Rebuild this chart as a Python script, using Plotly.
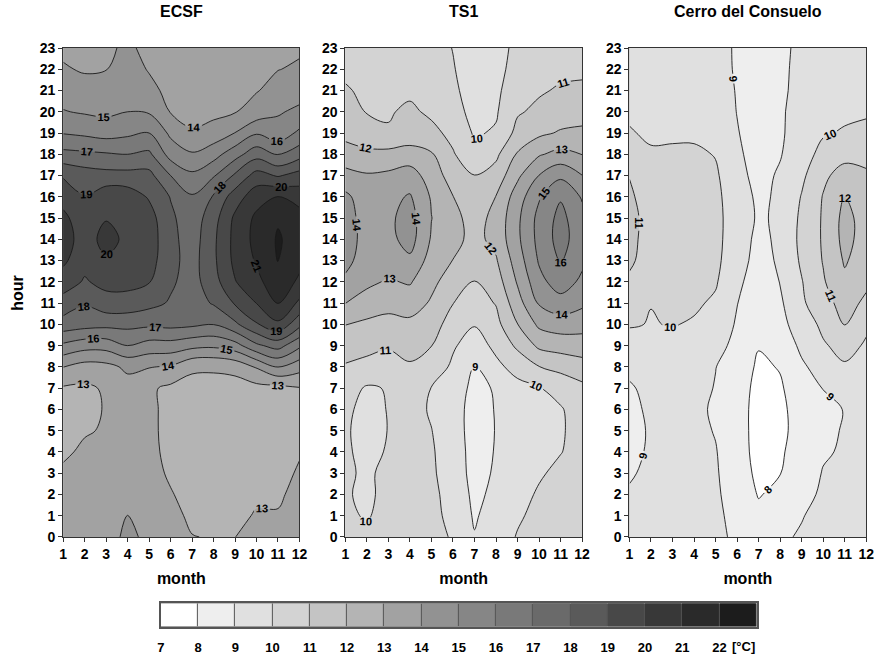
import plotly.graph_objects as go

W, H = 890, 662

months = list(range(1, 13))
hours = list(range(24))
month_ticks = [str(m) for m in months]
hour_ticks = [str(h) for h in hours]
titles = ["ECSF", "TS1", "Cerro del Consuelo"]

# temperature [°C]; one list per month (values for hours 0..23)
ecsf_by_month = [
    [13.6, 13.5, 13.3, 13.1, 12.9, 12.7, 12.7, 12.9, 14.02, 15.8, 17.6, 18.6, 19.5, 20.2, 20.4, 20.2, 19.7, 18.9, 17.3, 15.95, 15.05, 14.6, 14.1, 13.8],
    [13.5, 13.4, 13.3, 13.2, 13.1, 12.95, 12.8, 12.85, 13.6, 15.4, 17.4, 18.1, 18.9, 19.3, 19.6, 19.5, 19.05, 18.5, 17.2, 15.8, 14.9, 14.4, 13.9, 13.7],
    [13.45, 13.3, 13.2, 13.15, 13.1, 13.05, 13.05, 13.1, 13.7, 15.4, 17.3, 18.6, 19.3, 19.9, 20.3, 19.95, 19.65, 18.35, 17.1, 15.6, 14.8, 14.4, 13.98, 13.9],
    [14.3, 14.02, 13.7, 13.5, 13.4, 13.35, 13.35, 13.6, 14.2, 16.0, 17.3, 18.6, 19.3, 19.6, 19.8, 19.7, 19.55, 18.35, 17.0, 15.8, 15.0, 14.6, 14.3, 14.1],
    [13.7, 13.5, 13.35, 13.25, 13.2, 13.15, 13.15, 13.15, 14.05, 15.6, 17.2, 18.3, 19.05, 19.4, 19.5, 19.4, 18.9, 18.3, 17.2, 16.0, 14.9, 14.2, 13.95, 13.85],
    [13.4, 13.2, 13.05, 12.9, 12.8, 12.8, 12.8, 12.8, 13.9, 15.6, 17.3, 17.9, 18.15, 18.3, 18.3, 18.2, 17.95, 17.0, 15.6, 14.8, 13.95, 13.8, 13.75, 13.7],
    [13.02, 12.87, 12.75, 12.7, 12.65, 12.6, 12.65, 12.7, 13.15, 15.3, 17.2, 17.5, 17.6, 17.6, 17.5, 17.4, 17.1, 16.2, 15.1, 14.1, 13.7, 13.6, 13.55, 13.5],
    [12.96, 12.8, 12.7, 12.65, 12.6, 12.6, 12.65, 12.75, 13.1, 15.2, 17.02, 18.1, 18.6, 18.8, 18.8, 18.6, 18.1, 16.9, 15.6, 14.4, 13.75, 13.6, 13.6, 13.6],
    [12.99, 12.85, 12.7, 12.6, 12.6, 12.6, 12.6, 12.6, 13.3, 15.6, 17.8, 19.1, 19.95, 20.25, 20.3, 20.2, 19.5, 18.15, 16.6, 15.02, 13.95, 13.75, 13.7, 13.7],
    [13.3, 13.05, 12.9, 12.8, 12.7, 12.7, 12.7, 12.7, 14.1, 16.8, 18.9, 20.02, 20.7, 21.1, 21.3, 21.2, 20.6, 19.4, 17.6, 15.9, 14.4, 13.95, 13.8, 13.75],
    [13.2, 13.05, 12.9, 12.8, 12.7, 12.7, 12.75, 12.7, 15.02, 17.4, 19.8, 21.02, 21.7, 22.03, 22.1, 21.9, 21.02, 18.9, 16.9, 15.4, 14.9, 14.3, 13.98, 13.85],
    [13.4, 13.3, 13.2, 13.07, 12.95, 12.9, 12.9, 12.95, 14.4, 16.2, 18.3, 19.8, 20.8, 21.3, 21.6, 21.4, 20.6, 19.4, 17.6, 16.2, 15.2, 14.6, 14.1, 13.9],
]

ts1_by_month = [
    [10.2, 10.1, 10.05, 10.05, 10.05, 10.05, 10.1, 10.4, 10.9, 11.5, 12.02, 13.02, 13.8, 14.3, 14.5, 14.4, 14.2, 13.4, 12.3, 11.8, 11.4, 11.1, 10.8, 10.7],
    [10.1, 9.95, 9.9, 9.95, 9.9, 9.85, 9.85, 9.9, 10.7, 11.3, 11.8, 12.6, 13.2, 13.5, 13.6, 13.6, 13.5, 13.1, 12.2, 11.5, 10.95, 10.8, 10.7, 10.6],
    [10.3, 10.2, 10.15, 10.08, 10.03, 10.01, 10.02, 10.05, 10.8, 11.05, 11.7, 12.3, 12.9, 13.4, 13.7, 13.8, 13.7, 13.2, 12.3, 11.1, 10.9, 10.7, 10.6, 10.5],
    [10.4, 10.35, 10.3, 10.3, 10.3, 10.3, 10.35, 10.45, 10.9, 11.3, 11.8, 12.4, 13.1, 13.8, 14.4, 14.4, 14.1, 13.4, 12.5, 11.3, 11.2, 10.8, 10.7, 10.6],
    [10.35, 10.3, 10.25, 10.15, 10.1, 10.02, 9.9, 9.98, 10.5, 11.02, 11.5, 11.9, 12.2, 12.6, 12.9, 13.02, 12.9, 12.6, 12.1, 11.3, 10.8, 10.5, 10.4, 10.3],
    [9.9, 9.7, 9.6, 9.5, 9.5, 9.45, 9.45, 9.6, 9.85, 10.1, 10.5, 11.02, 11.6, 11.98, 12.3, 12.3, 12.02, 11.5, 11.1, 10.7, 10.3, 10.15, 10.05, 9.98],
    [9.05, 8.9, 8.8, 8.7, 8.65, 8.6, 8.6, 8.7, 8.98, 9.6, 10.05, 10.6, 10.98, 11.5, 11.7, 11.6, 11.4, 11.02, 10.2, 9.9, 9.75, 9.65, 9.6, 9.6],
    [9.6, 9.4, 9.2, 9.1, 9.05, 9.03, 9.05, 9.1, 9.8, 10.2, 10.7, 11.05, 11.5, 11.9, 12.3, 12.3, 12.02, 11.4, 10.8, 10.1, 9.9, 9.8, 9.75, 9.7],
    [10.05, 9.9, 9.7, 9.6, 9.5, 9.45, 9.5, 9.75, 10.3, 11.2, 11.98, 12.6, 13.1, 13.5, 13.8, 13.8, 13.5, 12.8, 12.1, 11.3, 10.9, 10.6, 10.3, 10.2],
    [10.3, 10.2, 10.1, 9.9, 9.8, 9.75, 9.8, 9.95, 10.98, 12.2, 13.2, 14.1, 14.7, 15.1, 15.3, 15.3, 14.9, 14.02, 12.9, 11.8, 11.2, 10.9, 10.6, 10.5],
    [10.5, 10.4, 10.3, 10.2, 9.97, 9.9, 9.93, 10.3, 11.3, 12.4, 13.5, 14.6, 15.5, 16.1, 16.4, 16.3, 15.9, 14.8, 13.3, 12.1, 11.5, 11.1, 10.8, 10.7],
    [10.4, 10.35, 10.3, 10.3, 10.3, 10.35, 10.4, 10.75, 11.6, 12.5, 13.4, 14.2, 14.8, 15.2, 15.4, 15.3, 14.9, 14.02, 12.98, 12.2, 11.6, 11.1, 10.9, 10.9],
]

cerro_by_month = [
    [9.3, 9.2, 9.05, 8.95, 8.9, 8.85, 8.9, 8.95, 9.1, 9.5, 10.1, 10.3, 10.85, 11.15, 11.2, 11.2, 11.1, 10.98, 10.6, 10.1, 9.8, 9.7, 9.65, 9.6],
    [9.4, 9.35, 9.2, 9.1, 9.05, 9.05, 9.07, 9.12, 9.45, 9.7, 9.95, 10.02, 10.4, 10.6, 10.7, 10.75, 10.7, 10.5, 10.15, 9.8, 9.7, 9.65, 9.6, 9.55],
    [9.45, 9.4, 9.35, 9.35, 9.3, 9.3, 9.3, 9.4, 9.55, 9.7, 10.05, 10.3, 10.5, 10.65, 10.7, 10.75, 10.7, 10.6, 10.15, 9.85, 9.7, 9.65, 9.6, 9.55],
    [9.45, 9.4, 9.35, 9.3, 9.3, 9.25, 9.25, 9.35, 9.5, 9.7, 9.9, 10.15, 10.4, 10.55, 10.6, 10.6, 10.55, 10.45, 10.2, 9.8, 9.65, 9.55, 9.5, 9.5],
    [9.25, 9.2, 9.15, 9.1, 9.05, 8.95, 8.85, 8.95, 9.02, 9.3, 9.6, 9.85, 10.1, 10.25, 10.3, 10.3, 10.25, 10.15, 9.95, 9.7, 9.5, 9.4, 9.35, 9.3],
    [8.8, 8.7, 8.55, 8.45, 8.4, 8.35, 8.35, 8.4, 8.55, 8.75, 8.9, 9.02, 9.15, 9.3, 9.4, 9.45, 9.4, 9.25, 9.15, 9.05, 8.98, 8.95, 8.9, 8.9],
    [8.45, 8.2, 7.95, 7.8, 7.7, 7.7, 7.7, 7.75, 7.85, 8.05, 8.3, 8.5, 8.65, 8.75, 8.8, 8.9, 8.85, 8.75, 8.65, 8.6, 8.55, 8.5, 8.5, 8.5],
    [8.85, 8.5, 8.2, 7.98, 7.9, 7.85, 7.85, 7.9, 8.05, 8.35, 8.7, 8.85, 9.02, 9.1, 9.15, 9.12, 9.12, 9.1, 8.95, 8.9, 8.9, 8.85, 8.85, 8.8],
    [9.1, 8.95, 8.7, 8.5, 8.35, 8.25, 8.3, 8.5, 8.85, 9.2, 9.5, 9.85, 9.95, 10.15, 10.25, 10.2, 10.05, 9.8, 9.5, 9.35, 9.3, 9.25, 9.2, 9.2],
    [9.4, 9.3, 9.15, 9.05, 8.9, 8.85, 8.85, 9.02, 9.4, 9.9, 10.2, 10.6, 10.9, 11.05, 11.1, 11.1, 11.05, 10.8, 10.35, 9.9, 9.7, 9.6, 9.55, 9.5],
    [9.45, 9.4, 9.3, 9.2, 9.1, 9.05, 9.02, 9.3, 9.9, 10.3, 11.02, 11.4, 11.8, 12.1, 12.3, 12.3, 12.05, 11.4, 10.7, 10.1, 9.8, 9.65, 9.6, 9.55],
    [9.5, 9.45, 9.4, 9.35, 9.3, 9.3, 9.3, 9.45, 9.75, 9.9, 10.15, 10.8, 11.2, 11.5, 11.6, 11.6, 11.4, 11.1, 10.8, 10.2, 9.9, 9.75, 9.7, 9.65],
]

# colour legend: band edges and grey level of each band
band_edges = list(range(7, 24))
band_greys = [255, 238, 224, 211, 196, 180, 162, 146, 134, 121, 106, 90, 72, 56, 42, 28]
contour_start, contour_end, contour_step = 8, 22, 1


def to_rows(by_month):
    return [list(r) for r in zip(*by_month)]


n = len(band_greys)
colorscale = [[k / (n - 1), f"rgb({g},{g},{g})"] for k, g in enumerate(band_greys)]

FONT = "Liberation Sans, Arial, sans-serif"
fig = go.Figure()

stations = [ecsf_by_month, ts1_by_month, cerro_by_month]
x_px = [(60, 299.5), (346, 586), (634, 874)]
y_px = (41, 542)

for i, data in enumerate(stations):
    ax = "" if i == 0 else str(i + 1)
    fig.add_trace(go.Contour(
        x=months, y=hours, z=to_rows(data),
        xaxis="x" + ax, yaxis="y" + ax,
        colorscale=colorscale, showscale=False,
        autocontour=False,
        contours=dict(start=contour_start, end=contour_end, size=contour_step,
                      coloring="fill", showlabels=True,
                      labelfont=dict(size=11, color="black", family=FONT, weight="bold")),
        line=dict(color="#1a1a1a", width=0.9),
        hoverinfo="skip",
    ))
    axis_common = dict(showline=True, mirror=True, linecolor="#333", linewidth=1,
                       ticks="outside", ticklen=4, tickcolor="#333",
                       showgrid=False, zeroline=False,
                       tickfont=dict(size=14, family=FONT, color="black", weight="bold"))
    fig.update_layout(**{
        "xaxis" + ax: dict(domain=[x_px[i][0] / W, x_px[i][1] / W], range=[1, 12],
                           tickvals=months, ticktext=month_ticks,
                           anchor="y" + ax,
                           title=dict(text="month", standoff=12,
                                      font=dict(size=16, family=FONT, color="black", weight="bold")),
                           **axis_common),
        "yaxis" + ax: dict(domain=[1 - y_px[1] / H, 1 - y_px[0] / H], range=[0, 23],
                           tickvals=hours, ticktext=hour_ticks,
                           anchor="x" + ax, **axis_common),
    })
    fig.add_annotation(text="<b>%s</b>" % titles[i], xref="paper", yref="paper",
                       x=(x_px[i][0] + x_px[i][1]) / 2 / W, y=1 - 4 / H,
                       showarrow=False, font=dict(size=16, family=FONT, color="black"),
                       xanchor="center", yanchor="middle")

fig.add_annotation(text="<b>hour</b>", xref="paper", yref="paper", x=14 / W, y=1 - 292 / H,
                   textangle=-90, showarrow=False,
                   font=dict(size=16, family=FONT, color="black"),
                   xanchor="center", yanchor="middle")

# legend bar
mids = [(a + b) / 2 for a, b in zip(band_edges[:-1], band_edges[1:])]
fig.add_trace(go.Heatmap(
    x=band_edges, y=[0, 1], z=[mids], xaxis="x4", yaxis="y4",
    colorscale=colorscale, zmin=mids[0], zmax=mids[-1], showscale=False,
    xgap=1, hoverinfo="skip",
))
fig.update_layout(
    xaxis4=dict(domain=[159 / W, 763 / W], range=[band_edges[0], band_edges[-1]], anchor="y4",
                tickvals=band_edges[:-1], ticktext=[str(v) for v in band_edges[:-1]],
                ticks="", showgrid=False, zeroline=False, ticklabelstandoff=8,
                showline=True, mirror=True, linecolor="#555", linewidth=1.5,
                tickfont=dict(size=13, family=FONT, color="black", weight="bold")),
    yaxis4=dict(domain=[1 - 634 / H, 1 - 610 / H], range=[0, 1], anchor="x4",
                showticklabels=False, ticks="", showgrid=False, zeroline=False,
                showline=True, mirror=True, linecolor="#555", linewidth=1.5),
)
fig.add_annotation(text="<b>[°C]</b>", xref="x4", yref="paper", x=band_edges[-1], y=1 - 654 / H,
                   showarrow=False, xanchor="right", yanchor="middle",
                   font=dict(size=13, family=FONT, color="black"))

fig.update_layout(width=W, height=H, margin=dict(l=0, r=0, t=0, b=0),
                  paper_bgcolor="white", plot_bgcolor="#555", showlegend=False)

fig.write_html("out.html")
